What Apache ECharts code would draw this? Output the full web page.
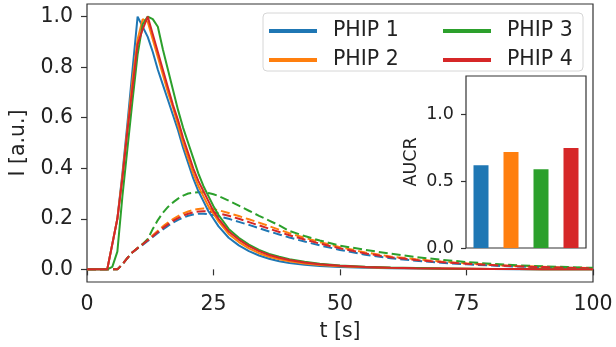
<!DOCTYPE html>
<html>
<head>
<meta charset="utf-8">
<script src="https://cdn.jsdelivr.net/npm/echarts@6/dist/echarts.min.js"></script>
<style>
  html, body { margin: 0; padding: 0; background: #fff; }
  #chart { width: 616px; height: 347px; }
</style>
</head>
<body>
<div id="chart"></div>
<script>
// time axis [s]
const times = [0, 2, 4, 5, 6, 7, 8, 9, 10, 11, 12, 13, 14, 15, 16, 17, 18, 19, 20, 21, 22, 23, 24, 25, 26,
  28, 30, 32, 34, 36, 38, 40, 43, 46, 50, 55, 60, 65, 70, 75, 80, 85, 90, 95, 100]

// solid curves
const phip1 = [0, 0, 0, 0.1, 0.2, 0.38, 0.58, 0.79, 1.0, 0.96, 0.92, 0.86, 0.79, 0.73, 0.67, 0.61, 0.55, 0.48, 0.42, 0.36, 0.31, 0.27, 0.23, 0.2, 0.17,
  0.125, 0.095, 0.072, 0.055, 0.042, 0.032, 0.025, 0.018, 0.013, 0.009, 0.006, 0.004, 0.003, 0.002, 0.001, 0.001, 0, 0, 0, 0]
const phip2 = [0, 0, 0, 0.1, 0.2, 0.37, 0.56, 0.75, 0.91, 0.99, 0.98, 0.91, 0.84, 0.77, 0.7, 0.64, 0.57, 0.5, 0.44, 0.38, 0.33, 0.29, 0.25, 0.22, 0.19,
  0.14, 0.108, 0.083, 0.064, 0.05, 0.04, 0.032, 0.023, 0.017, 0.012, 0.008, 0.005, 0.004, 0.003, 0.002, 0.001, 0.001, 0, 0, 0]
const phip3 = [0, 0, 0, 0.01, 0.07, 0.29, 0.48, 0.67, 0.85, 0.97, 1.0, 0.99, 0.96, 0.87, 0.79, 0.71, 0.63, 0.56, 0.5, 0.44, 0.38, 0.33, 0.29, 0.25, 0.215,
  0.16, 0.125, 0.098, 0.077, 0.061, 0.05, 0.04, 0.03, 0.022, 0.015, 0.01, 0.007, 0.005, 0.003, 0.002, 0.001, 0.001, 0, 0, 0]
const phip4 = [0, 0, 0, 0.1, 0.2, 0.36, 0.55, 0.72, 0.89, 0.95, 1.0, 0.93, 0.86, 0.79, 0.72, 0.65, 0.59, 0.52, 0.46, 0.4, 0.35, 0.31, 0.27, 0.23, 0.2,
  0.15, 0.118, 0.092, 0.072, 0.057, 0.046, 0.037, 0.027, 0.02, 0.014, 0.009, 0.006, 0.004, 0.003, 0.002, 0.001, 0.001, 0, 0, 0]

// dashed curves
const phip1Dash = [0, 0, 0, 0, 0, 0.02, 0.045, 0.068, 0.083, 0.097, 0.112, 0.128, 0.144, 0.158, 0.172, 0.185, 0.196, 0.205, 0.212, 0.217, 0.22, 0.22, 0.218, 0.215, 0.21,
  0.2, 0.188, 0.176, 0.163, 0.15, 0.138, 0.126, 0.11, 0.095, 0.077, 0.058, 0.044, 0.034, 0.026, 0.02, 0.015, 0.011, 0.008, 0.006, 0.004]
const phip2Dash = [0, 0, 0, 0, 0, 0.02, 0.045, 0.068, 0.084, 0.1, 0.117, 0.135, 0.153, 0.17, 0.185, 0.199, 0.211, 0.221, 0.229, 0.235, 0.239, 0.241, 0.241, 0.238, 0.234,
  0.223, 0.211, 0.198, 0.185, 0.171, 0.157, 0.143, 0.125, 0.108, 0.088, 0.067, 0.051, 0.04, 0.031, 0.024, 0.018, 0.013, 0.01, 0.007, 0.005]
const phip3Dash = [0, 0, 0, 0, 0, 0.02, 0.045, 0.068, 0.084, 0.1, 0.12, 0.16, 0.195, 0.224, 0.247, 0.265, 0.28, 0.292, 0.3, 0.304, 0.305, 0.305, 0.302, 0.297, 0.29,
  0.272, 0.252, 0.232, 0.212, 0.193, 0.174, 0.152, 0.132, 0.114, 0.094, 0.077, 0.062, 0.049, 0.038, 0.029, 0.022, 0.016, 0.012, 0.009, 0.006]
const phip4Dash = [0, 0, 0, 0, 0, 0.02, 0.045, 0.068, 0.084, 0.099, 0.115, 0.131, 0.148, 0.164, 0.178, 0.192, 0.203, 0.213, 0.22, 0.226, 0.229, 0.23, 0.229, 0.226, 0.222,
  0.212, 0.2, 0.187, 0.174, 0.161, 0.148, 0.135, 0.118, 0.102, 0.083, 0.063, 0.048, 0.037, 0.029, 0.022, 0.017, 0.012, 0.009, 0.006, 0.004]

// inset bars
const barNames = ["PHIP 1", "PHIP 2", "PHIP 3", "PHIP 4"]
const aucr = [0.62, 0.72, 0.59, 0.75]

// tick labels
const xTicks = [0, 25, 50, 75, 100]
const yTicks = [0, 0.2, 0.4, 0.6, 0.8, 1.0]
const insetTicks = [0, 0.5, 1.0]

const colors = ["#1f77b4", "#ff7f0e", "#2ca02c", "#d62728"]
const font = "DejaVu Sans"
const textColor = "#222"
const frame = "#333"

const solid = [phip1, phip2, phip3, phip4]
const dashed = [phip1Dash, phip2Dash, phip3Dash, phip4Dash]
const pairs = (vals) => times.map((t, i) => [t, vals[i]])

const lineSeries = []
solid.forEach((vals, i) => {
  lineSeries.push({
    name: barNames[i],
    type: "line",
    data: pairs(vals),
    showSymbol: false,
    symbol: "none",
    itemStyle: { color: colors[i] },
    lineStyle: { color: colors[i], width: 2 },
    z: 3,
  })
})
dashed.forEach((vals, i) => {
  lineSeries.push({
    name: barNames[i],
    type: "line",
    data: pairs(vals),
    showSymbol: false,
    symbol: "none",
    itemStyle: { color: colors[i] },
    lineStyle: { color: colors[i], width: 2, type: [9, 4] },
    z: 2,
  })
})

const legendBase = {
  orient: "vertical",
  top: 19,
  padding: 0,
  itemWidth: 48,
  itemHeight: 4,
  itemGap: 5,
  icon: "rect",
  textStyle: { fontFamily: font, fontSize: 20.5, color: textColor, lineHeight: 24, padding: [0, 0, 0, 11] },
  selectedMode: false,
}

const chart = echarts.init(document.getElementById("chart"), null, { renderer: "canvas" })

const option = {
  animation: false,
  backgroundColor: "#fff",
  grid: [
    { left: 87, right: 23, top: 4, bottom: 64, show: true, borderColor: frame, borderWidth: 1.2, backgroundColor: "transparent" },
    { left: 466, top: 76, width: 120, height: 172, show: true, borderColor: frame, borderWidth: 1.2, backgroundColor: "#fff", z: 5 },
  ],
  legend: [
    { ...legendBase, left: 269, data: [barNames[0], barNames[1]] },
    { ...legendBase, left: 443, data: [barNames[2], barNames[3]] },
  ],
  graphic: [
    {
      type: "rect",
      z: 3,
      shape: { x: 263, y: 13, width: 320, height: 58, r: 4 },
      style: { fill: "rgba(255,255,255,0.8)", stroke: "#d6d6d6", lineWidth: 1 },
    },
  ],
  xAxis: [
    {
      type: "value",
      gridIndex: 0,
      min: 0,
      max: 100,
      interval: 25,
      axisLine: { show: false },
      axisTick: { show: true, length: 6, lineStyle: { color: frame, width: 1.2 }, customValues: xTicks },
      axisLabel: { fontFamily: font, fontSize: 20.5, color: textColor, margin: 12, customValues: xTicks },
      splitLine: { show: false },
      name: "t [s]",
      nameLocation: "middle",
      nameGap: 39,
      nameTextStyle: { fontFamily: font, fontSize: 20.5, color: textColor },
    },
    {
      type: "category",
      gridIndex: 1,
      data: barNames,
      axisLine: { show: false },
      axisTick: { show: false },
      axisLabel: { show: false },
      splitLine: { show: false },
    },
  ],
  yAxis: [
    {
      type: "value",
      gridIndex: 0,
      min: -0.05,
      max: 1.05,
      axisLine: { show: false },
      axisTick: { show: true, length: 6, lineStyle: { color: frame, width: 1.2 }, customValues: yTicks },
      axisLabel: {
        fontFamily: font, fontSize: 20.5, color: textColor, margin: 14,
        customValues: yTicks,
        formatter: (v) => v.toFixed(1),
      },
      splitLine: { show: false },
      name: "I [a.u.]",
      nameLocation: "middle",
      nameGap: 52,
      nameTextStyle: { fontFamily: font, fontSize: 20.5, color: textColor },
    },
    {
      type: "value",
      gridIndex: 1,
      min: 0,
      max: 1.29,
      axisLine: { show: false },
      axisTick: { show: true, length: 5, lineStyle: { color: frame, width: 1.2 }, customValues: insetTicks },
      axisLabel: {
        fontFamily: font, fontSize: 17.5, color: textColor, margin: 12,
        customValues: insetTicks,
        formatter: (v) => v.toFixed(1),
      },
      splitLine: { show: false },
      name: "AUCR",
      nameLocation: "middle",
      nameGap: 46,
      nameTextStyle: { fontFamily: font, fontSize: 17.5, color: textColor },
    },
  ],
  series: [
    ...lineSeries,
    {
      type: "bar",
      name: "AUCR",
      xAxisIndex: 1,
      yAxisIndex: 1,
      barWidth: "50%",
      z: 6,
      data: aucr.map((v, i) => ({ value: v, itemStyle: { color: colors[i] } })),
    },
  ],
}

chart.setOption(option)
</script>
</body>
</html>
